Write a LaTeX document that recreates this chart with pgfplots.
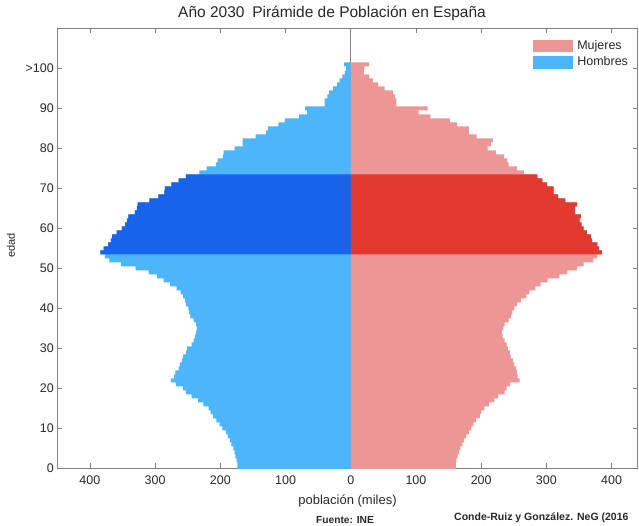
\documentclass[border=0pt]{standalone}
\usepackage{fontspec}
\setmainfont{Liberation Sans}
\usepackage{pgfplots}
\usepackage{pgfplotstable}
\pgfplotsset{compat=1.18}
\definecolor{menL}{RGB}{77,182,250}
\definecolor{menD}{RGB}{22,100,236}
\definecolor{womL}{RGB}{236,150,150}
\definecolor{womD}{RGB}{226,58,48}
\definecolor{axgray}{RGB}{128,128,128}
\definecolor{txt}{RGB}{40,40,40}

\pgfplotstableread{
age men women
0 174 161
1 174 161
2 175 162
3 177 164
4 178 166
5 180 168
6 183 171
7 185 174
8 188 177
9 191 181
10 197 185
11 201 188
12 206 192
13 211 198
14 215 200
15 218 205
16 226 212
17 234 220
18 244 226
19 253 236
20 257 239
21 268 244
22 276 259
23 271 256
24 269 255
25 264 254
26 262 251
27 259 249
28 257 245
29 253 244
30 251 241
31 244 239
32 241 236
33 239 233
34 237 232
35 236 234
36 237 236
37 241 242
38 246 246
39 248 248
40 249 251
41 253 255
42 254 261
43 257 269
44 261 274
45 267 283
46 277 291
47 287 302
48 297 320
49 310 332
50 330 347
51 352 357
52 370 372
53 377 378
54 384 385
55 379 381
56 372 378
57 368 370
58 366 368
59 359 362
60 351 357
61 346 354
62 343 351
63 341 353
64 331 344
65 328 344
66 327 347
67 309 329
68 295 318
69 286 311
70 285 311
71 275 301
72 264 294
73 253 286
74 232 266
75 221 255
76 207 242
77 204 240
78 196 235
79 195 223
80 178 210
81 166 215
82 166 218
83 146 193
84 130 181
85 127 181
86 111 163
87 101 152
88 79 122
89 67 104
90 70 118
91 40 70
92 40 70
93 36 68
94 33 65
95 27 52
96 21 42
97 17 34
98 13 28
99 9 20
100 7 21
101 10 28
}\pyramid

\begin{document}
\begin{tikzpicture}
\path[use as bounding box] (-57.3pt,-56.7pt) rectangle (581.7pt,468.3pt);
\begin{axis}[
  at={(0pt,0pt)}, anchor=south west,
  scale only axis, width=580.4pt, height=440pt,
  xmin=-450, xmax=440, ymin=0, ymax=110,
  axis line style={axgray, line width=0.8pt},
  tick style={axgray, line width=0.8pt},
  major tick length=5pt,
  tick align=inside,
  tick pos=both,
  xtick={-400,-300,...,400},
  xticklabels={400,300,200,100,0,100,200,300,400},
  ytick={0,10,20,30,40,50,60,70,80,90,100},
  yticklabels={0,10,20,30,40,50,60,70,80,90,{>100}},
  /pgf/number format/assume math mode=true,
  tick label style={font=\fontsize{12.5}{15}\selectfont, text=txt},
  xticklabel style={yshift=-3.5pt},
  legend style={draw=none, fill=none, at={(0.8196,0.9741)}, anchor=north west,
    inner sep=0pt, outer sep=0pt, row sep=4.5pt,
    font=\fontsize{12.5}{15}\selectfont, text=txt,
    nodes={inner sep=0pt},
    /tikz/every odd column/.style={column sep=4.6pt}},
  legend cell align=left,
]
\addplot[axgray, line width=0.8pt, forget plot] coordinates {(0,0) (0,110)};
\addplot[xbar, bar width=1, bar shift=0pt, fill=menL, draw=none, forget plot]
  table[x expr=-\thisrow{men}, y=age] {\pyramid};
\addplot[xbar, bar width=1, bar shift=0pt, fill=womL, draw=none, forget plot]
  table[x=women, y=age] {\pyramid};
\addplot[xbar, bar width=1, bar shift=0pt, fill=menD, draw=none, forget plot,
  restrict y to domain=53.5:73.5]
  table[x expr=-\thisrow{men}, y=age] {\pyramid};
\addplot[xbar, bar width=1, bar shift=0pt, fill=womD, draw=none, forget plot,
  restrict y to domain=53.5:73.5]
  table[x=women, y=age] {\pyramid};
\addlegendimage{legend image code/.code={\fill[womL] (0pt,-5.8pt) rectangle (39.3pt,5.8pt);}}
\addlegendentry{Mujeres}
\addlegendimage{legend image code/.code={\fill[menL] (0pt,-5.8pt) rectangle (39.3pt,5.8pt);}}
\addlegendentry{Hombres}
\end{axis}
\node[font=\fontsize{15.5}{18}\selectfont, text=txt] at (274.7pt,454.8pt)
  {Año 2030\hspace{0.5em}Pirámide de Población en España};
\node[font=\fontsize{13}{15}\selectfont, text=txt] at (290.2pt,-32.4pt) {población (miles)};
\node[font=\fontsize{11}{13}\selectfont, text=txt, rotate=90] at (-46.3pt,223pt) {edad};
\node[font=\bfseries\fontsize{10.2}{12}\selectfont, text=txt] at (287.7pt,-51.7pt) {Fuente: INE};
\node[font=\bfseries\fontsize{10.5}{12}\selectfont, text=txt, anchor=east] at (574.7pt,-49pt)
  {Conde-Ruiz y González. NeG (2016};
\end{tikzpicture}
\end{document}
